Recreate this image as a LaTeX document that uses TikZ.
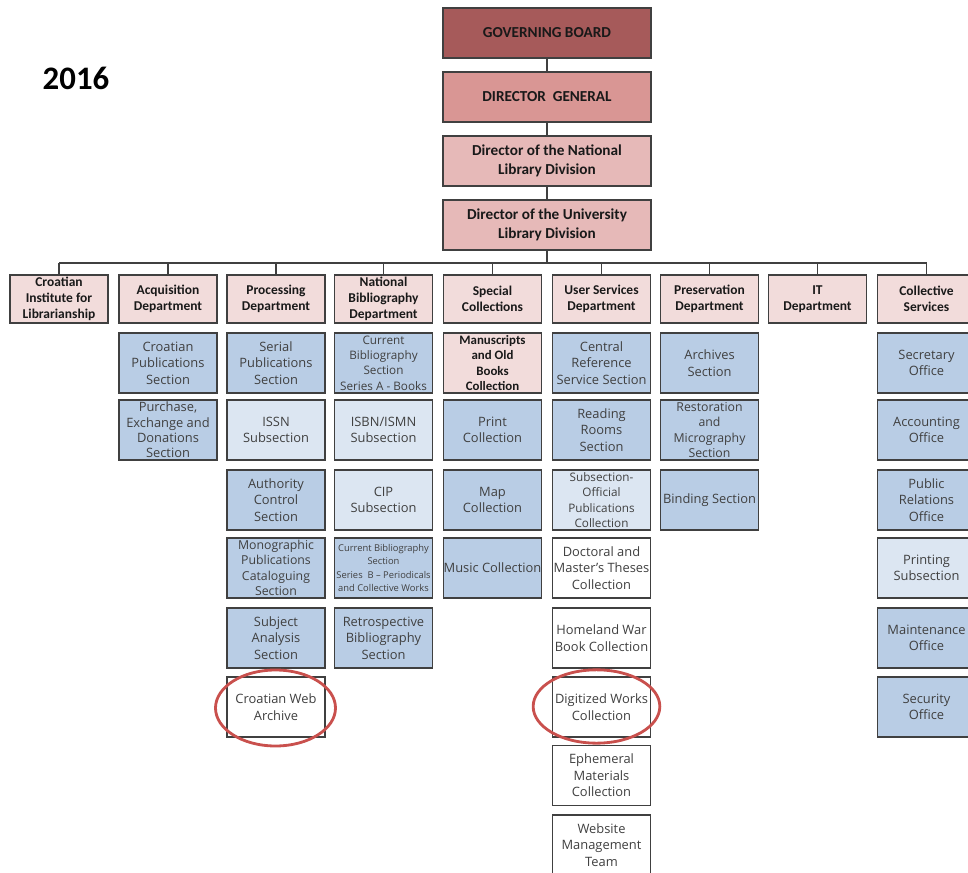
\documentclass[tikz,border=0pt]{standalone}
\usepackage{fontspec}
\setmainfont{Carlito}
\newfontfamily\secfont[Ligatures=TeX]{Open Sans}
\usepackage{xcolor}
\usepackage{tikz}

\definecolor{board}{HTML}{A65A5A}
\definecolor{general}{HTML}{D99694}
\definecolor{director}{HTML}{E6B9B8}
\definecolor{deptfill}{HTML}{F2DCDB}
\definecolor{secfill}{HTML}{B9CDE5}
\definecolor{subfill}{HTML}{DCE6F2}
\definecolor{frame}{HTML}{404040}
\definecolor{ring}{HTML}{C9504D}

\begin{document}
\begin{tikzpicture}[x=0.03cm, y=-0.03cm,
    topbox/.style={draw=frame, line width=0.9pt, minimum width=6.24cm, minimum height=1.5cm, align=center, text=black!90, font=\bfseries\fontsize{13}{16}\selectfont},
    deptbox/.style={draw=frame, line width=0.9pt, fill=deptfill, minimum width=2.94cm, minimum height=1.44cm, inner sep=1pt, align=center, text=black!90, font=\bfseries\fontsize{11.5}{13.6}\selectfont},
    secbox/.style={draw=frame, line width=0.9pt, fill=secfill, minimum width=2.94cm, minimum height=1.8cm, inner sep=0pt, align=center, text=black!75, font=\secfont\fontsize{11}{14}\selectfont},
    subbox/.style={secbox, fill=subfill},
    plainbox/.style={secbox, fill=white},
    fourline/.style={font=\secfont\fontsize{10.5}{13}\selectfont},
    link/.style={draw=frame, line width=0.9pt},
    redring/.style={draw=ring, line width=2.4pt}]

    \useasboundingbox (0,0) rectangle (968,873);
    \clip (0,0) rectangle (968,873);

    \node[font=\bfseries\fontsize{28}{30}\selectfont] at (76,78) (year) {2016};

    % management
    \node[topbox, fill=board] at (547,33) (gb) {GOVERNING BOARD};
    \node[topbox, fill=general] at (547,97) (dg) {DIRECTOR\ \ GENERAL};
    \node[topbox, fill=director] at (547,161) (dn) {Director of the National\\Library Division};
    \node[topbox, fill=director] at (547,225) (du) {Director of the University\\Library Division};

    \draw[link] (gb) -- (dg);
    \draw[link] (dg) -- (dn);
    \draw[link] (dn) -- (du);

    % departments
    \node[deptbox] at (59,299) (inst) {Croatian\\Institute for\\Librarianship};
    \node[deptbox] at (168,299) (acq) {Acquisition\\Department};
    \node[deptbox] at (276,299) (proc) {Processing\\Department};
    \node[deptbox] at (383.5,299) (natbib) {National\\Bibliography\\Department};
    \node[deptbox] at (492.5,299) (spec) {Special\\Collections};
    \node[deptbox] at (601.5,299) (user) {User Services\\Department};
    \node[deptbox] at (709.5,299) (pres) {Preservation\\Department};
    \node[deptbox] at (817.5,299) (it) {IT\\Department};
    \node[deptbox] at (926.5,299) (coll) {Collective\\Services};

    \coordinate (bus) at (547,263);
    \draw[link] (du) -- (bus);
    \draw[link] (inst.north |- bus) -- (coll.north |- bus);
    \foreach \d in {inst,acq,proc,natbib,spec,user,pres,it,coll}
        \draw[link] (\d.north |- bus) -- (\d.north);

    % acquisition
    \node[secbox] at (168,363) (acq1) {Croatian\\Publications\\Section};
    \node[secbox, font=\secfont\fontsize{11}{13}\selectfont] at (168,430) (acq2) {Purchase,\\Exchange and\\Donations\\Section};

    % processing
    \node[secbox] at (276,363) (proc1) {Serial\\Publications\\Section};
    \node[subbox] at (276,430) (proc2) {ISSN\\Subsection};
    \node[secbox] at (276,500) (proc3) {Authority\\Control\\Section};
    \node[secbox, fourline] at (276,568) (proc4) {Monographic\\Publications\\Cataloguing\\Section};
    \node[secbox] at (276,638) (proc5) {Subject\\Analysis\\Section};
    \node[plainbox] at (276,707) (proc6) {Croatian Web\\Archive};

    % national bibliography
    \node[secbox, font=\secfont\fontsize{10}{13}\selectfont] at (383.5,363) (nb1) {Current\\Bibliography\\Section\\Series A - Books};
    \node[subbox] at (383.5,430) (nb2) {ISBN/ISMN\\Subsection};
    \node[subbox] at (383.5,500) (nb3) {CIP\\Subsection};
    \node[secbox, font=\secfont\fontsize{8}{11.5}\selectfont] at (383.5,568) (nb4) {Current Bibliography\\Section\\Series\ \ B – Periodicals\\and Collective Works};
    \node[secbox] at (383.5,638) (nb5) {Retrospective\\Bibliography\\Section};

    % special collections
    \node[secbox, fill=deptfill, text=black!90, font=\bfseries\fontsize{11}{13}\selectfont] at (492.5,363) (spec1) {Manuscripts\\and Old\\Books\\Collection};
    \node[secbox] at (492.5,430) (spec2) {Print\\Collection};
    \node[secbox] at (492.5,500) (spec3) {Map\\Collection};
    \node[secbox] at (492.5,568) (spec4) {Music Collection};

    % user services
    \node[secbox] at (601.5,363) (user1) {Central\\Reference\\Service Section};
    \node[secbox] at (601.5,430) (user2) {Reading\\Rooms\\Section};
    \node[subbox, font=\secfont\fontsize{10}{13}\selectfont] at (601.5,500) (user3) {Subsection-\\Official\\Publications\\Collection};
    \node[plainbox] at (601.5,568) (user4) {Doctoral and\\Master's Theses\\Collection};
    \node[plainbox] at (601.5,638) (user5) {Homeland War\\Book Collection};
    \node[plainbox] at (601.5,707) (user6) {Digitized Works\\Collection};
    \node[plainbox] at (601.5,775.5) (user7) {Ephemeral\\Materials\\Collection};
    \node[plainbox] at (601.5,845) (user8) {Website\\Management\\Team};

    % preservation
    \node[secbox] at (709.5,363) (pres1) {Archives\\Section};
    \node[secbox, fourline] at (709.5,430) (pres2) {Restoration\\and\\Micrography\\Section};
    \node[secbox] at (709.5,500) (pres3) {Binding Section};

    % collective services
    \node[secbox] at (926.5,363) (coll1) {Secretary\\Office};
    \node[secbox] at (926.5,430) (coll2) {Accounting\\Office};
    \node[secbox] at (926.5,500) (coll3) {Public\\Relations\\Office};
    \node[subbox] at (926.5,568) (coll4) {Printing\\Subsection};
    \node[secbox] at (926.5,638) (coll5) {Maintenance\\Office};
    \node[secbox] at (926.5,707) (coll6) {Security\\Office};

    % marked items
    \draw[redring] (275.5,708) ellipse [x radius=1.8cm, y radius=1.14cm];
    \draw[redring] (596.5,706.5) ellipse [x radius=1.9cm, y radius=1.1cm];
\end{tikzpicture}
\end{document}
